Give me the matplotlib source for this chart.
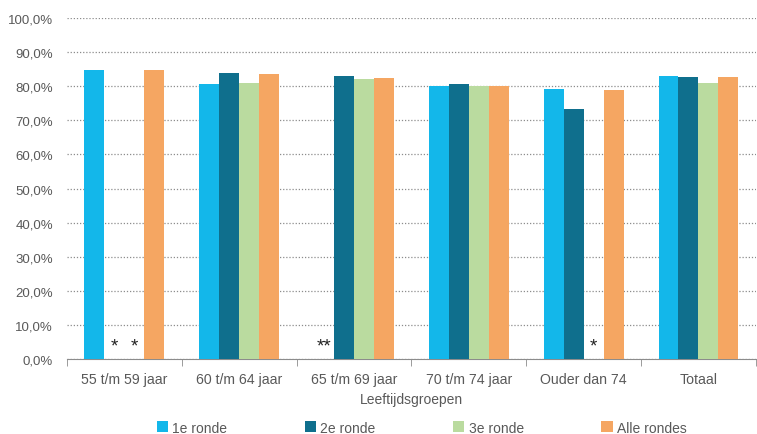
import numpy as np
import matplotlib.pyplot as plt
from matplotlib.ticker import FuncFormatter

plt.rcParams['font.family'] = ['Liberation Sans', 'DejaVu Sans']

groepen = ['55 t/m 59 jaar', '60 t/m 64 jaar', '65 t/m 69 jaar',
           '70 t/m 74 jaar', 'Ouder dan 74', 'Totaal']
series = ['1e ronde', '2e ronde', '3e ronde', 'Alle rondes']
kleuren = ['#13B7EA', '#0F6F8D', '#BADB9F', '#F5A662']

ronde1 = [84.8, 80.6, np.nan, 80.1, 79.1, 83.0]
ronde2 = [np.nan, 83.9, 83.0, 80.6, 73.4, 82.6]
ronde3 = [np.nan, 80.9, 82.1, 80.2, np.nan, 81.0]
alle = [84.8, 83.6, 82.3, 80.2, 78.8, 82.6]
waarden = [ronde1, ronde2, ronde3, alle]

# asterisks for missing values: (group, series index, text)
sterren = [(0, 1, '*'), (0, 2, '*'), (2, 0, '**'), (4, 2, '*')]

fig = plt.figure(figsize=(7.57, 4.35), dpi=100)
ax = fig.add_axes([0.0885, 0.1724, 0.91, 0.7839])

x = np.arange(len(groepen))
w = 0.174
for i, (naam, vals, kl) in enumerate(zip(series, waarden, kleuren)):
    pos = x + (i - 1.5) * w
    ax.bar(pos, np.nan_to_num(vals), w, color=kl, label=naam, zorder=3)

for g, s, t in sterren:
    ax.text(x[g] + (s - 1.5) * w, 1.3, t, ha='center', va='bottom',
            fontsize=13.5, color='#222222', zorder=4)

ax.set_xlim(-0.5, len(groepen) - 0.5)
ax.set_ylim(0, 100)
ax.set_yticks(np.arange(0, 101, 10))
ax.yaxis.set_major_formatter(FuncFormatter(lambda v, p: ('%.1f%%' % v).replace('.', ',')))
ax.yaxis.grid(True, linestyle=(0, (1, 1.5)), color='#8c8c8c', linewidth=0.9, zorder=0)
ax.tick_params(axis='y', length=0, labelsize=9.5, labelcolor='#595959', pad=10)

ax.set_xticks(x)
ax.set_xticklabels(groepen)
ax.set_xticks(np.arange(-0.5, len(groepen)), minor=True)
ax.tick_params(axis='x', which='major', length=0, labelsize=10.2, labelcolor='#595959', pad=9)
ax.tick_params(axis='x', which='minor', length=5, color='#8c8c8c')
ax.set_xlabel('Leeftijdsgroepen', fontsize=10, color='#595959', labelpad=5)

for k in ['top', 'right', 'left']:
    ax.spines[k].set_visible(False)
ax.spines['bottom'].set_color('#8c8c8c')

fig.legend(loc='lower center', bbox_to_anchor=(0.557, -0.03), ncol=4, frameon=False,
           fontsize=10, labelcolor='#595959', handlelength=0.8, handleheight=0.8,
           handletextpad=0.3, columnspacing=5.6)

plt.savefig('out.png', dpi=100)
